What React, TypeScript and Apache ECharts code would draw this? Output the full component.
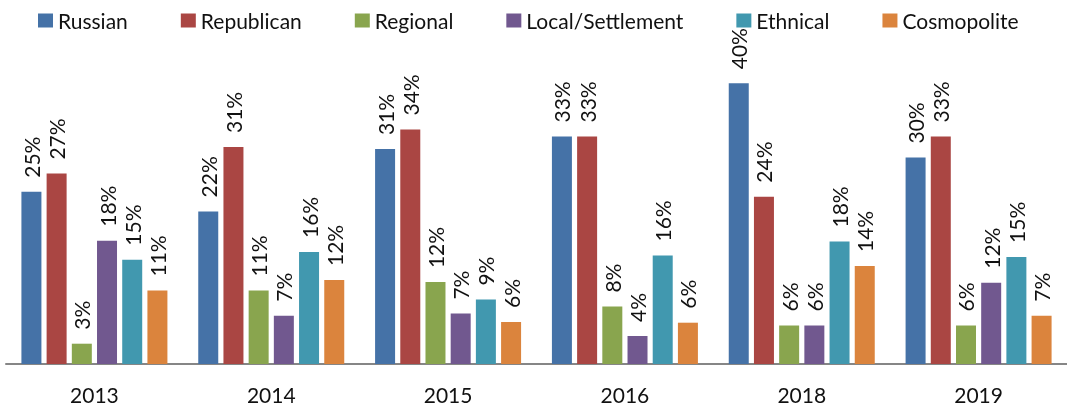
import React, { useEffect, useRef } from "react";
import * as echarts from "echarts";

const years = ["2013", "2014", "2015", "2016", "2018", "2019"];
const seriesNames = ["Russian", "Republican", "Regional", "Local/Settlement", "Ethnical", "Cosmopolite"];
const russian = [24.6, 21.8, 30.7, 32.5, 40.1, 29.5];
const republican = [27.2, 31.0, 33.5, 32.5, 23.9, 32.5];
const regional = [2.9, 10.5, 11.7, 8.2, 5.5, 5.5];
const localSettlement = [17.6, 6.9, 7.2, 4.0, 5.5, 11.6];
const ethnical = [14.9, 16.0, 9.2, 15.5, 17.5, 15.3];
const cosmopolite = [10.5, 12.0, 6.0, 5.9, 14.0, 6.9];
const colors = ["#4572A7", "#AA4643", "#89A54E", "#71588F", "#4198AF", "#DB843D"];

const FONT = "Lato, 'Liberation Sans', sans-serif";

export default function App() {
  const ref = useRef<HTMLDivElement>(null);
  useEffect(() => {
    if (!ref.current) return;
    const chart = echarts.init(ref.current, undefined, { renderer: "svg" });
    const allData = [russian, republican, regional, localSettlement, ethnical, cosmopolite];
    chart.setOption({
      animation: false,
      color: colors,
      legend: {
        top: 5,
        left: 33,
        itemWidth: 15,
        itemHeight: 14,
        itemGap: 53,
        icon: "rect",
        textStyle: { fontFamily: FONT, fontSize: 21, color: "#111" },
        data: seriesNames,
      },
      grid: { left: 6, right: 0, top: 14, bottom: 47, containLabel: false },
      xAxis: {
        type: "category",
        data: years,
        axisLine: { show: true, lineStyle: { color: "#868686", width: 2 } },
        axisTick: { show: false },
        axisLabel: { fontFamily: FONT, fontSize: 21, color: "#111", margin: 20 },
      },
      yAxis: { type: "value", min: 0, max: 50, show: false, splitLine: { show: false } },
      series: seriesNames.map((name, i) => ({
        name,
        type: "bar",
        data: allData[i],
        barWidth: 20,
        barGap: "26%",
        label: {
          show: true,
          position: "top",
          rotate: 90,
          align: "left",
          verticalAlign: "middle",
          distance: 14,
          fontFamily: FONT,
          fontSize: 21,
          color: "#111",
          formatter: (p: any) => Math.round(p.value) + "%",
        },
      })),
    });
    return () => chart.dispose();
  }, []);
  return <div ref={ref} style={{ position: "fixed", left: 0, top: 0, width: 1067, height: 411 }} />;
}
